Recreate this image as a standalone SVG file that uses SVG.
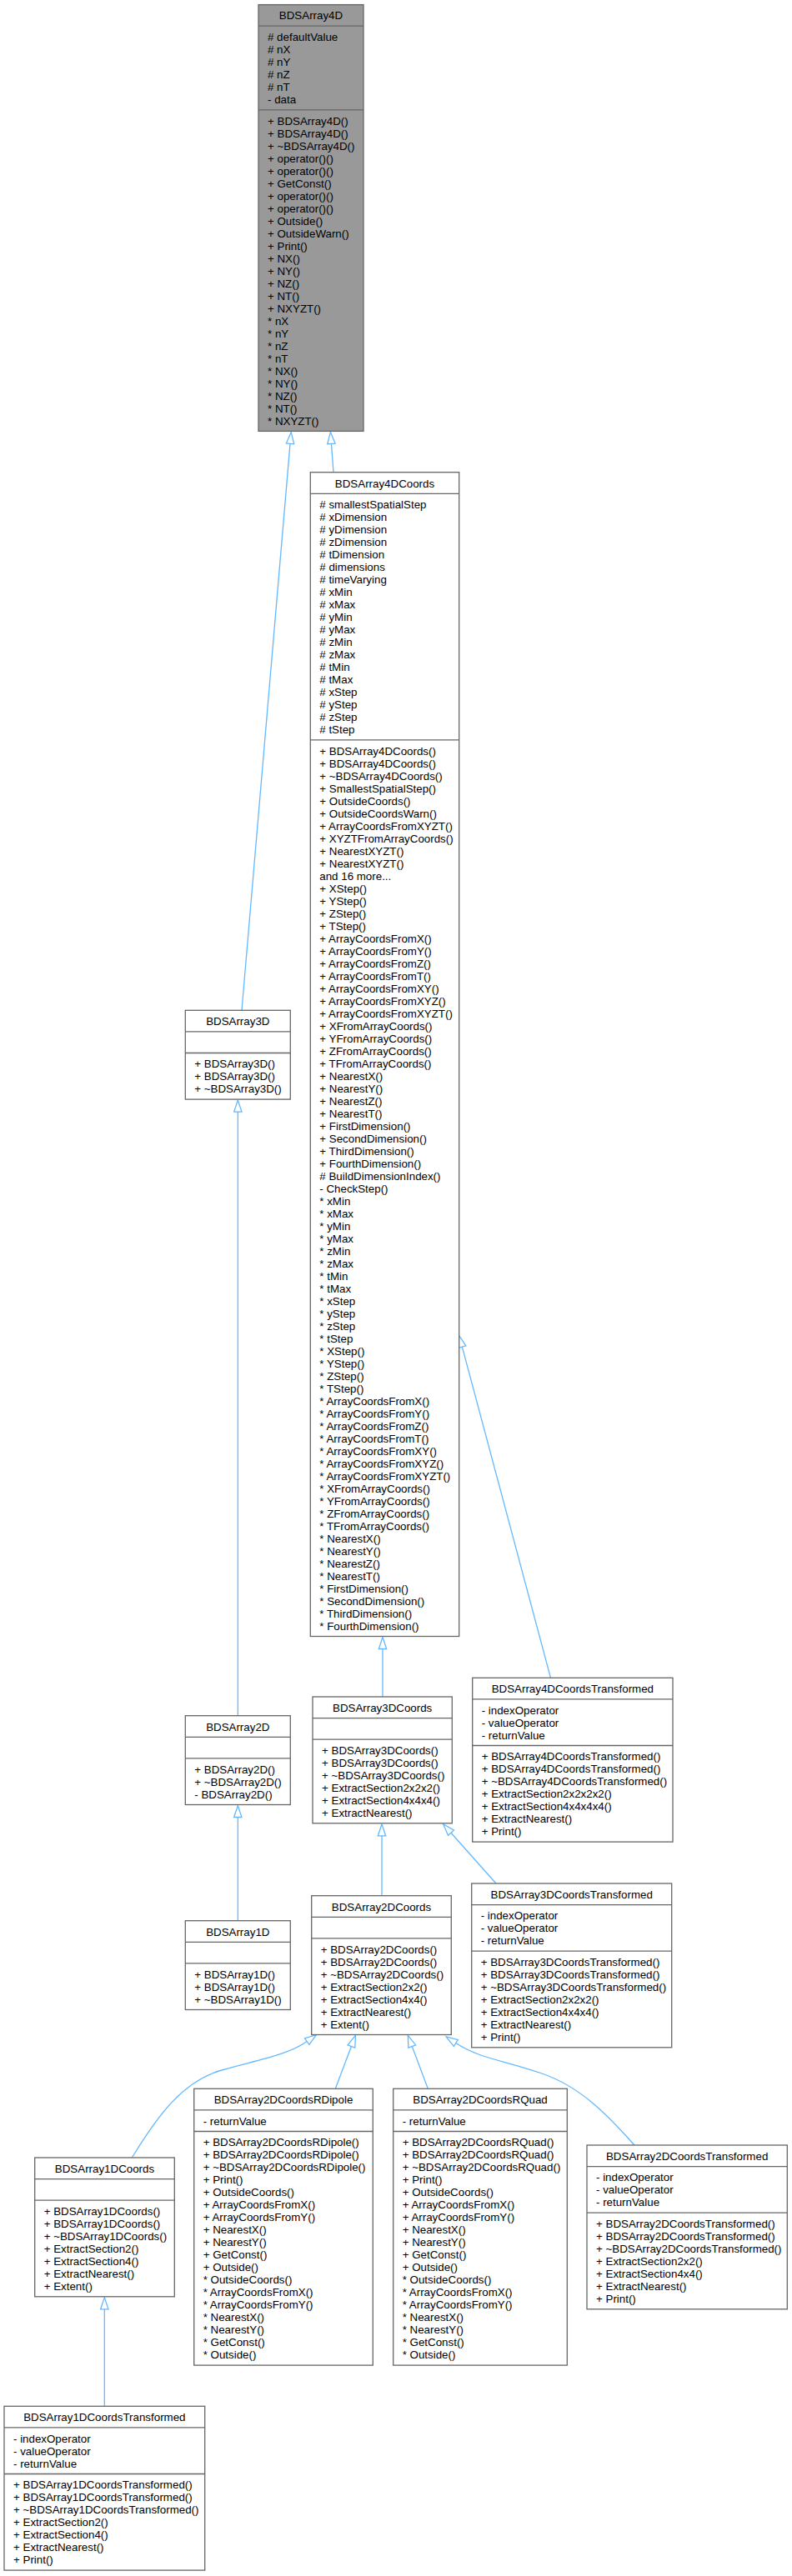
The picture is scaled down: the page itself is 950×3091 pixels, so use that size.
<svg xmlns="http://www.w3.org/2000/svg" width="950" height="3091" viewBox="0 0 950 3091">
<style>
.t{font-family:"Liberation Sans",Arial,Helvetica,sans-serif;font-size:13.33px;fill:#000}
.h{text-anchor:middle}
.b{fill:#fff;stroke:#666;stroke-width:1.3}
.g{fill:#999;stroke:#666;stroke-width:1.3}
.s{stroke:#666;stroke-width:1.3}
.e{fill:none;stroke:#63b8ff;stroke-width:1.3;marker-end:url(#inh)}
</style>
<defs>
<marker id="inh" markerUnits="userSpaceOnUse" markerWidth="18" markerHeight="12" refX="1" refY="6" orient="auto" viewBox="-1 0 18 12">
<path d="M0,1.33 L14,6 L0,10.67 Z" fill="#fff" stroke="#63b8ff" stroke-width="1.3"/>
</marker>
</defs>
<rect width="950" height="3091" fill="#fff"/>
<g id="edges">
<path class="e" d="M290,1212.3 L348.1,531.4"/>
<path class="e" d="M400,566.7 L397.35,531.4"/>
<path class="e" d="M285.3,2058.7 L285.3,1333.1"/>
<path class="e" d="M285.3,2304.7 L285.3,2179.5"/>
<path class="e" d="M459,2036 L459,1977.5"/>
<path class="e" d="M458,2274.7 L458,2201.8"/>
<path class="e" d="M660.5,2013.3 L554.1,1615.2"/>
<path class="e" d="M595,2260 L540.3,2198.5"/>
<path class="e" d="M158.3,2589 C190,2537 220,2497 266,2484 S345,2466 369,2449"/>
<path class="e" d="M402.3,2506.3 L421.8,2454.6"/>
<path class="e" d="M513.3,2506.3 L493.9,2454.6"/>
<path class="e" d="M761,2574 C735,2545 700,2505 650,2488 S575,2470 546,2451"/>
<path class="e" d="M125.3,2887.3 L125.3,2769.8"/>
</g>
<g id="BDSArray4D">
<rect class="g" x="310" y="5.6" width="126" height="511.8"/>
<line class="s" x1="310" y1="31.2" x2="436" y2="31.2"/>
<line class="s" x1="310" y1="131.8" x2="436" y2="131.8"/>
<text class="t h" x="373" y="23.4">BDSArray4D</text>
<text class="t" x="321" y="49"><tspan x="321"># defaultValue</tspan><tspan x="321" dy="15"># nX</tspan><tspan x="321" dy="15"># nY</tspan><tspan x="321" dy="15"># nZ</tspan><tspan x="321" dy="15"># nT</tspan><tspan x="321" dy="15">- data</tspan></text>
<text class="t" x="321" y="149.6"><tspan x="321">+ BDSArray4D()</tspan><tspan x="321" dy="15">+ BDSArray4D()</tspan><tspan x="321" dy="15">+ ~BDSArray4D()</tspan><tspan x="321" dy="15">+ operator()()</tspan><tspan x="321" dy="15">+ operator()()</tspan><tspan x="321" dy="15">+ GetConst()</tspan><tspan x="321" dy="15">+ operator()()</tspan><tspan x="321" dy="15">+ operator()()</tspan><tspan x="321" dy="15">+ Outside()</tspan><tspan x="321" dy="15">+ OutsideWarn()</tspan><tspan x="321" dy="15">+ Print()</tspan><tspan x="321" dy="15">+ NX()</tspan><tspan x="321" dy="15">+ NY()</tspan><tspan x="321" dy="15">+ NZ()</tspan><tspan x="321" dy="15">+ NT()</tspan><tspan x="321" dy="15">+ NXYZT()</tspan><tspan x="321" dy="15">* nX</tspan><tspan x="321" dy="15">* nY</tspan><tspan x="321" dy="15">* nZ</tspan><tspan x="321" dy="15">* nT</tspan><tspan x="321" dy="15">* NX()</tspan><tspan x="321" dy="15">* NY()</tspan><tspan x="321" dy="15">* NZ()</tspan><tspan x="321" dy="15">* NT()</tspan><tspan x="321" dy="15">* NXYZT()</tspan></text>
</g>
<g id="BDSArray4DCoords">
<rect class="b" x="372.3" y="566.7" width="178.4" height="1396.8"/>
<line class="s" x1="372.3" y1="592.3" x2="550.7" y2="592.3"/>
<line class="s" x1="372.3" y1="887.9" x2="550.7" y2="887.9"/>
<text class="t h" x="461.5" y="584.5">BDSArray4DCoords</text>
<text class="t" x="383.3" y="610.1"><tspan x="383.3"># smallestSpatialStep</tspan><tspan x="383.3" dy="15"># xDimension</tspan><tspan x="383.3" dy="15"># yDimension</tspan><tspan x="383.3" dy="15"># zDimension</tspan><tspan x="383.3" dy="15"># tDimension</tspan><tspan x="383.3" dy="15"># dimensions</tspan><tspan x="383.3" dy="15"># timeVarying</tspan><tspan x="383.3" dy="15"># xMin</tspan><tspan x="383.3" dy="15"># xMax</tspan><tspan x="383.3" dy="15"># yMin</tspan><tspan x="383.3" dy="15"># yMax</tspan><tspan x="383.3" dy="15"># zMin</tspan><tspan x="383.3" dy="15"># zMax</tspan><tspan x="383.3" dy="15"># tMin</tspan><tspan x="383.3" dy="15"># tMax</tspan><tspan x="383.3" dy="15"># xStep</tspan><tspan x="383.3" dy="15"># yStep</tspan><tspan x="383.3" dy="15"># zStep</tspan><tspan x="383.3" dy="15"># tStep</tspan></text>
<text class="t" x="383.3" y="905.7"><tspan x="383.3">+ BDSArray4DCoords()</tspan><tspan x="383.3" dy="15">+ BDSArray4DCoords()</tspan><tspan x="383.3" dy="15">+ ~BDSArray4DCoords()</tspan><tspan x="383.3" dy="15">+ SmallestSpatialStep()</tspan><tspan x="383.3" dy="15">+ OutsideCoords()</tspan><tspan x="383.3" dy="15">+ OutsideCoordsWarn()</tspan><tspan x="383.3" dy="15">+ ArrayCoordsFromXYZT()</tspan><tspan x="383.3" dy="15">+ XYZTFromArrayCoords()</tspan><tspan x="383.3" dy="15">+ NearestXYZT()</tspan><tspan x="383.3" dy="15">+ NearestXYZT()</tspan><tspan x="383.3" dy="15">and 16 more...</tspan><tspan x="383.3" dy="15">+ XStep()</tspan><tspan x="383.3" dy="15">+ YStep()</tspan><tspan x="383.3" dy="15">+ ZStep()</tspan><tspan x="383.3" dy="15">+ TStep()</tspan><tspan x="383.3" dy="15">+ ArrayCoordsFromX()</tspan><tspan x="383.3" dy="15">+ ArrayCoordsFromY()</tspan><tspan x="383.3" dy="15">+ ArrayCoordsFromZ()</tspan><tspan x="383.3" dy="15">+ ArrayCoordsFromT()</tspan><tspan x="383.3" dy="15">+ ArrayCoordsFromXY()</tspan><tspan x="383.3" dy="15">+ ArrayCoordsFromXYZ()</tspan><tspan x="383.3" dy="15">+ ArrayCoordsFromXYZT()</tspan><tspan x="383.3" dy="15">+ XFromArrayCoords()</tspan><tspan x="383.3" dy="15">+ YFromArrayCoords()</tspan><tspan x="383.3" dy="15">+ ZFromArrayCoords()</tspan><tspan x="383.3" dy="15">+ TFromArrayCoords()</tspan><tspan x="383.3" dy="15">+ NearestX()</tspan><tspan x="383.3" dy="15">+ NearestY()</tspan><tspan x="383.3" dy="15">+ NearestZ()</tspan><tspan x="383.3" dy="15">+ NearestT()</tspan><tspan x="383.3" dy="15">+ FirstDimension()</tspan><tspan x="383.3" dy="15">+ SecondDimension()</tspan><tspan x="383.3" dy="15">+ ThirdDimension()</tspan><tspan x="383.3" dy="15">+ FourthDimension()</tspan><tspan x="383.3" dy="15"># BuildDimensionIndex()</tspan><tspan x="383.3" dy="15">- CheckStep()</tspan><tspan x="383.3" dy="15">* xMin</tspan><tspan x="383.3" dy="15">* xMax</tspan><tspan x="383.3" dy="15">* yMin</tspan><tspan x="383.3" dy="15">* yMax</tspan><tspan x="383.3" dy="15">* zMin</tspan><tspan x="383.3" dy="15">* zMax</tspan><tspan x="383.3" dy="15">* tMin</tspan><tspan x="383.3" dy="15">* tMax</tspan><tspan x="383.3" dy="15">* xStep</tspan><tspan x="383.3" dy="15">* yStep</tspan><tspan x="383.3" dy="15">* zStep</tspan><tspan x="383.3" dy="15">* tStep</tspan><tspan x="383.3" dy="15">* XStep()</tspan><tspan x="383.3" dy="15">* YStep()</tspan><tspan x="383.3" dy="15">* ZStep()</tspan><tspan x="383.3" dy="15">* TStep()</tspan><tspan x="383.3" dy="15">* ArrayCoordsFromX()</tspan><tspan x="383.3" dy="15">* ArrayCoordsFromY()</tspan><tspan x="383.3" dy="15">* ArrayCoordsFromZ()</tspan><tspan x="383.3" dy="15">* ArrayCoordsFromT()</tspan><tspan x="383.3" dy="15">* ArrayCoordsFromXY()</tspan><tspan x="383.3" dy="15">* ArrayCoordsFromXYZ()</tspan><tspan x="383.3" dy="15">* ArrayCoordsFromXYZT()</tspan><tspan x="383.3" dy="15">* XFromArrayCoords()</tspan><tspan x="383.3" dy="15">* YFromArrayCoords()</tspan><tspan x="383.3" dy="15">* ZFromArrayCoords()</tspan><tspan x="383.3" dy="15">* TFromArrayCoords()</tspan><tspan x="383.3" dy="15">* NearestX()</tspan><tspan x="383.3" dy="15">* NearestY()</tspan><tspan x="383.3" dy="15">* NearestZ()</tspan><tspan x="383.3" dy="15">* NearestT()</tspan><tspan x="383.3" dy="15">* FirstDimension()</tspan><tspan x="383.3" dy="15">* SecondDimension()</tspan><tspan x="383.3" dy="15">* ThirdDimension()</tspan><tspan x="383.3" dy="15">* FourthDimension()</tspan></text>
</g>
<g id="BDSArray3D">
<rect class="b" x="222.3" y="1212.3" width="126" height="106.8"/>
<line class="s" x1="222.3" y1="1237.9" x2="348.3" y2="1237.9"/>
<line class="s" x1="222.3" y1="1263.5" x2="348.3" y2="1263.5"/>
<text class="t h" x="285.3" y="1230.1">BDSArray3D</text>
<text class="t" x="233.3" y="1281.3"><tspan x="233.3">+ BDSArray3D()</tspan><tspan x="233.3" dy="15">+ BDSArray3D()</tspan><tspan x="233.3" dy="15">+ ~BDSArray3D()</tspan></text>
</g>
<g id="BDSArray2D">
<rect class="b" x="222.3" y="2058.7" width="126" height="106.8"/>
<line class="s" x1="222.3" y1="2084.3" x2="348.3" y2="2084.3"/>
<line class="s" x1="222.3" y1="2109.9" x2="348.3" y2="2109.9"/>
<text class="t h" x="285.3" y="2076.5">BDSArray2D</text>
<text class="t" x="233.3" y="2127.7"><tspan x="233.3">+ BDSArray2D()</tspan><tspan x="233.3" dy="15">+ ~BDSArray2D()</tspan><tspan x="233.3" dy="15">- BDSArray2D()</tspan></text>
</g>
<g id="BDSArray1D">
<rect class="b" x="222.3" y="2304.7" width="126" height="106.8"/>
<line class="s" x1="222.3" y1="2330.3" x2="348.3" y2="2330.3"/>
<line class="s" x1="222.3" y1="2355.9" x2="348.3" y2="2355.9"/>
<text class="t h" x="285.3" y="2322.5">BDSArray1D</text>
<text class="t" x="233.3" y="2373.7"><tspan x="233.3">+ BDSArray1D()</tspan><tspan x="233.3" dy="15">+ BDSArray1D()</tspan><tspan x="233.3" dy="15">+ ~BDSArray1D()</tspan></text>
</g>
<g id="BDSArray3DCoords">
<rect class="b" x="375" y="2036" width="167.3" height="151.8"/>
<line class="s" x1="375" y1="2061.6" x2="542.3" y2="2061.6"/>
<line class="s" x1="375" y1="2087.2" x2="542.3" y2="2087.2"/>
<text class="t h" x="458.65" y="2053.8">BDSArray3DCoords</text>
<text class="t" x="386" y="2105"><tspan x="386">+ BDSArray3DCoords()</tspan><tspan x="386" dy="15">+ BDSArray3DCoords()</tspan><tspan x="386" dy="15">+ ~BDSArray3DCoords()</tspan><tspan x="386" dy="15">+ ExtractSection2x2x2()</tspan><tspan x="386" dy="15">+ ExtractSection4x4x4()</tspan><tspan x="386" dy="15">+ ExtractNearest()</tspan></text>
</g>
<g id="BDSArray2DCoords">
<rect class="b" x="373.7" y="2274.7" width="167.6" height="166.8"/>
<line class="s" x1="373.7" y1="2300.3" x2="541.3" y2="2300.3"/>
<line class="s" x1="373.7" y1="2325.9" x2="541.3" y2="2325.9"/>
<text class="t h" x="457.5" y="2292.5">BDSArray2DCoords</text>
<text class="t" x="384.7" y="2343.7"><tspan x="384.7">+ BDSArray2DCoords()</tspan><tspan x="384.7" dy="15">+ BDSArray2DCoords()</tspan><tspan x="384.7" dy="15">+ ~BDSArray2DCoords()</tspan><tspan x="384.7" dy="15">+ ExtractSection2x2()</tspan><tspan x="384.7" dy="15">+ ExtractSection4x4()</tspan><tspan x="384.7" dy="15">+ ExtractNearest()</tspan><tspan x="384.7" dy="15">+ Extent()</tspan></text>
</g>
<g id="BDSArray4DCoordsTransformed">
<rect class="b" x="566.7" y="2013.3" width="240.3" height="196.8"/>
<line class="s" x1="566.7" y1="2038.9" x2="807" y2="2038.9"/>
<line class="s" x1="566.7" y1="2094.5" x2="807" y2="2094.5"/>
<text class="t h" x="686.85" y="2031.1">BDSArray4DCoordsTransformed</text>
<text class="t" x="577.7" y="2056.7"><tspan x="577.7">- indexOperator</tspan><tspan x="577.7" dy="15">- valueOperator</tspan><tspan x="577.7" dy="15">- returnValue</tspan></text>
<text class="t" x="577.7" y="2112.3"><tspan x="577.7">+ BDSArray4DCoordsTransformed()</tspan><tspan x="577.7" dy="15">+ BDSArray4DCoordsTransformed()</tspan><tspan x="577.7" dy="15">+ ~BDSArray4DCoordsTransformed()</tspan><tspan x="577.7" dy="15">+ ExtractSection2x2x2x2()</tspan><tspan x="577.7" dy="15">+ ExtractSection4x4x4x4()</tspan><tspan x="577.7" dy="15">+ ExtractNearest()</tspan><tspan x="577.7" dy="15">+ Print()</tspan></text>
</g>
<g id="BDSArray3DCoordsTransformed">
<rect class="b" x="565.7" y="2260" width="240" height="196.8"/>
<line class="s" x1="565.7" y1="2285.6" x2="805.7" y2="2285.6"/>
<line class="s" x1="565.7" y1="2341.2" x2="805.7" y2="2341.2"/>
<text class="t h" x="685.7" y="2277.8">BDSArray3DCoordsTransformed</text>
<text class="t" x="576.7" y="2303.4"><tspan x="576.7">- indexOperator</tspan><tspan x="576.7" dy="15">- valueOperator</tspan><tspan x="576.7" dy="15">- returnValue</tspan></text>
<text class="t" x="576.7" y="2359"><tspan x="576.7">+ BDSArray3DCoordsTransformed()</tspan><tspan x="576.7" dy="15">+ BDSArray3DCoordsTransformed()</tspan><tspan x="576.7" dy="15">+ ~BDSArray3DCoordsTransformed()</tspan><tspan x="576.7" dy="15">+ ExtractSection2x2x2()</tspan><tspan x="576.7" dy="15">+ ExtractSection4x4x4()</tspan><tspan x="576.7" dy="15">+ ExtractNearest()</tspan><tspan x="576.7" dy="15">+ Print()</tspan></text>
</g>
<g id="BDSArray1DCoords">
<rect class="b" x="41.7" y="2589" width="167.6" height="166.8"/>
<line class="s" x1="41.7" y1="2614.6" x2="209.3" y2="2614.6"/>
<line class="s" x1="41.7" y1="2640.2" x2="209.3" y2="2640.2"/>
<text class="t h" x="125.5" y="2606.8">BDSArray1DCoords</text>
<text class="t" x="52.7" y="2658"><tspan x="52.7">+ BDSArray1DCoords()</tspan><tspan x="52.7" dy="15">+ BDSArray1DCoords()</tspan><tspan x="52.7" dy="15">+ ~BDSArray1DCoords()</tspan><tspan x="52.7" dy="15">+ ExtractSection2()</tspan><tspan x="52.7" dy="15">+ ExtractSection4()</tspan><tspan x="52.7" dy="15">+ ExtractNearest()</tspan><tspan x="52.7" dy="15">+ Extent()</tspan></text>
</g>
<g id="BDSArray2DCoordsRDipole">
<rect class="b" x="232.7" y="2506.3" width="214.6" height="331.8"/>
<line class="s" x1="232.7" y1="2531.9" x2="447.3" y2="2531.9"/>
<line class="s" x1="232.7" y1="2557.5" x2="447.3" y2="2557.5"/>
<text class="t h" x="340" y="2524.1">BDSArray2DCoordsRDipole</text>
<text class="t" x="243.7" y="2549.7">- returnValue</text>
<text class="t" x="243.7" y="2575.3"><tspan x="243.7">+ BDSArray2DCoordsRDipole()</tspan><tspan x="243.7" dy="15">+ BDSArray2DCoordsRDipole()</tspan><tspan x="243.7" dy="15">+ ~BDSArray2DCoordsRDipole()</tspan><tspan x="243.7" dy="15">+ Print()</tspan><tspan x="243.7" dy="15">+ OutsideCoords()</tspan><tspan x="243.7" dy="15">+ ArrayCoordsFromX()</tspan><tspan x="243.7" dy="15">+ ArrayCoordsFromY()</tspan><tspan x="243.7" dy="15">+ NearestX()</tspan><tspan x="243.7" dy="15">+ NearestY()</tspan><tspan x="243.7" dy="15">+ GetConst()</tspan><tspan x="243.7" dy="15">+ Outside()</tspan><tspan x="243.7" dy="15">* OutsideCoords()</tspan><tspan x="243.7" dy="15">* ArrayCoordsFromX()</tspan><tspan x="243.7" dy="15">* ArrayCoordsFromY()</tspan><tspan x="243.7" dy="15">* NearestX()</tspan><tspan x="243.7" dy="15">* NearestY()</tspan><tspan x="243.7" dy="15">* GetConst()</tspan><tspan x="243.7" dy="15">* Outside()</tspan></text>
</g>
<g id="BDSArray2DCoordsRQuad">
<rect class="b" x="471.7" y="2506.3" width="208.6" height="331.8"/>
<line class="s" x1="471.7" y1="2531.9" x2="680.3" y2="2531.9"/>
<line class="s" x1="471.7" y1="2557.5" x2="680.3" y2="2557.5"/>
<text class="t h" x="576" y="2524.1">BDSArray2DCoordsRQuad</text>
<text class="t" x="482.7" y="2549.7">- returnValue</text>
<text class="t" x="482.7" y="2575.3"><tspan x="482.7">+ BDSArray2DCoordsRQuad()</tspan><tspan x="482.7" dy="15">+ BDSArray2DCoordsRQuad()</tspan><tspan x="482.7" dy="15">+ ~BDSArray2DCoordsRQuad()</tspan><tspan x="482.7" dy="15">+ Print()</tspan><tspan x="482.7" dy="15">+ OutsideCoords()</tspan><tspan x="482.7" dy="15">+ ArrayCoordsFromX()</tspan><tspan x="482.7" dy="15">+ ArrayCoordsFromY()</tspan><tspan x="482.7" dy="15">+ NearestX()</tspan><tspan x="482.7" dy="15">+ NearestY()</tspan><tspan x="482.7" dy="15">+ GetConst()</tspan><tspan x="482.7" dy="15">+ Outside()</tspan><tspan x="482.7" dy="15">* OutsideCoords()</tspan><tspan x="482.7" dy="15">* ArrayCoordsFromX()</tspan><tspan x="482.7" dy="15">* ArrayCoordsFromY()</tspan><tspan x="482.7" dy="15">* NearestX()</tspan><tspan x="482.7" dy="15">* NearestY()</tspan><tspan x="482.7" dy="15">* GetConst()</tspan><tspan x="482.7" dy="15">* Outside()</tspan></text>
</g>
<g id="BDSArray2DCoordsTransformed">
<rect class="b" x="704" y="2574" width="240.3" height="196.8"/>
<line class="s" x1="704" y1="2599.6" x2="944.3" y2="2599.6"/>
<line class="s" x1="704" y1="2655.2" x2="944.3" y2="2655.2"/>
<text class="t h" x="824.15" y="2591.8">BDSArray2DCoordsTransformed</text>
<text class="t" x="715" y="2617.4"><tspan x="715">- indexOperator</tspan><tspan x="715" dy="15">- valueOperator</tspan><tspan x="715" dy="15">- returnValue</tspan></text>
<text class="t" x="715" y="2673"><tspan x="715">+ BDSArray2DCoordsTransformed()</tspan><tspan x="715" dy="15">+ BDSArray2DCoordsTransformed()</tspan><tspan x="715" dy="15">+ ~BDSArray2DCoordsTransformed()</tspan><tspan x="715" dy="15">+ ExtractSection2x2()</tspan><tspan x="715" dy="15">+ ExtractSection4x4()</tspan><tspan x="715" dy="15">+ ExtractNearest()</tspan><tspan x="715" dy="15">+ Print()</tspan></text>
</g>
<g id="BDSArray1DCoordsTransformed">
<rect class="b" x="5" y="2887.3" width="240.7" height="196.8"/>
<line class="s" x1="5" y1="2912.9" x2="245.7" y2="2912.9"/>
<line class="s" x1="5" y1="2968.5" x2="245.7" y2="2968.5"/>
<text class="t h" x="125.35" y="2905.1">BDSArray1DCoordsTransformed</text>
<text class="t" x="16" y="2930.7"><tspan x="16">- indexOperator</tspan><tspan x="16" dy="15">- valueOperator</tspan><tspan x="16" dy="15">- returnValue</tspan></text>
<text class="t" x="16" y="2986.3"><tspan x="16">+ BDSArray1DCoordsTransformed()</tspan><tspan x="16" dy="15">+ BDSArray1DCoordsTransformed()</tspan><tspan x="16" dy="15">+ ~BDSArray1DCoordsTransformed()</tspan><tspan x="16" dy="15">+ ExtractSection2()</tspan><tspan x="16" dy="15">+ ExtractSection4()</tspan><tspan x="16" dy="15">+ ExtractNearest()</tspan><tspan x="16" dy="15">+ Print()</tspan></text>
</g>
</svg>
